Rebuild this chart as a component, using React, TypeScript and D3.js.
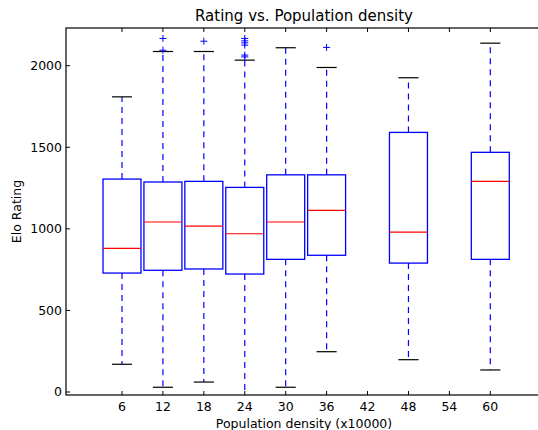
import React from "react";
import * as d3 from "d3";

const positions = [6, 12, 18, 24, 30, 36, 48, 60];
const q1 = [729, 746, 754, 723, 813, 838, 790, 813];
const medians = [880, 1042, 1017, 970, 1042, 1113, 980, 1291];
const q3 = [1305, 1287, 1291, 1254, 1331, 1331, 1591, 1469];
const whiskerLow = [170, 29, 61, -40, 29, 247, 198, 135];
const whiskerHigh = [1809, 2087, 2087, 2034, 2110, 1989, 1926, 2138];
const outliers: number[][] = [
  [],
  [2167, 2095],
  [2150],
  [2167, 2152, 2140, 2126, 2065, 2054],
  [],
  [2112],
  [],
  [],
];
const xTicks = [6, 12, 18, 24, 30, 36, 42, 48, 54, 60];
const yTicks = [0, 500, 1000, 1500, 2000];

const W = 538;
const H = 430;
const left = 66;
const right = 542;
const top = 28;
const bottom = 395;
const FONT = "DejaVu Sans, sans-serif";

export default function App() {
  const x = d3.scaleLinear().domain([6, 60]).range([122, 490.3]);
  const y = d3.scaleLinear().domain([-18.4, 2231]).range([bottom, top]);
  const boxW = 5.57;
  const capW = 2.95;
  const tickLen = 4;

  return (
    <svg
      width={W}
      height={H}
      style={{ position: "absolute", left: 0, top: 0, background: "#fff" }}
      fontFamily={FONT}
    >
      <defs>
        <clipPath id="plot">
          <rect x={left} y={top} width={right - left} height={bottom - top} />
        </clipPath>
      </defs>
      <rect x={0} y={0} width={W} height={H} fill="#fff" />
      <g clipPath="url(#plot)">
        {positions.map((p, i) => {
          const cx = x(p);
          const x0 = x(p - boxW / 2);
          const x1 = x(p + boxW / 2);
          const c0 = x(p - capW / 2);
          const c1 = x(p + capW / 2);
          return (
            <g key={p}>
              <line x1={cx} x2={cx} y1={y(q3[i])} y2={y(whiskerHigh[i])} stroke="#0000ff" strokeWidth={1.2} strokeDasharray="6,5" />
              <line x1={cx} x2={cx} y1={y(q1[i])} y2={y(whiskerLow[i])} stroke="#0000ff" strokeWidth={1.2} strokeDasharray="6,5" />
              <line x1={c0} x2={c1} y1={y(whiskerHigh[i])} y2={y(whiskerHigh[i])} stroke="#000" strokeWidth={1.2} />
              <line x1={c0} x2={c1} y1={y(whiskerLow[i])} y2={y(whiskerLow[i])} stroke="#000" strokeWidth={1.2} />
              <rect x={x0} y={y(q3[i])} width={x1 - x0} height={y(q1[i]) - y(q3[i])} fill="none" stroke="#0000ff" strokeWidth={1.3} />
              <line x1={x0} x2={x1} y1={y(medians[i])} y2={y(medians[i])} stroke="#ff0000" strokeWidth={1.2} />
              {outliers[i].map((o, j) => (
                <g key={j} stroke="#0000ff" strokeWidth={1}>
                  <line x1={cx - 3.5} x2={cx + 3.5} y1={y(o)} y2={y(o)} />
                  <line x1={cx} x2={cx} y1={y(o) - 3.5} y2={y(o) + 3.5} />
                </g>
              ))}
            </g>
          );
        })}
      </g>
      {/* axes frame */}
      <rect x={left} y={top} width={right - left} height={bottom - top} fill="none" stroke="#000" strokeWidth={1.2} />
      {/* x ticks */}
      {xTicks.map((t) => (
        <g key={t}>
          <line x1={x(t)} x2={x(t)} y1={bottom} y2={bottom - tickLen} stroke="#000" />
          <line x1={x(t)} x2={x(t)} y1={top} y2={top + tickLen} stroke="#000" />
          <text x={x(t)} y={411} textAnchor="middle" fontSize={12.5} fill="#000">
            {t}
          </text>
        </g>
      ))}
      {/* y ticks */}
      {yTicks.map((t) => (
        <g key={t}>
          <line x1={left} x2={left + tickLen} y1={y(t)} y2={y(t)} stroke="#000" />
          <line x1={right} x2={right - tickLen} y1={y(t)} y2={y(t)} stroke="#000" />
          <text x={62} y={y(t)} dy="0.36em" textAnchor="end" fontSize={12.5} fill="#000">
            {t}
          </text>
        </g>
      ))}
      <text x={(left + right) / 2} y={21} textAnchor="middle" fontSize={15} fill="#000">
        Rating vs. Population density
      </text>
      <text x={(left + right) / 2} y={428} textAnchor="middle" fontSize={12.5} fill="#000">
        Population density (x10000)
      </text>
      <text
        transform={`translate(20.5, ${(top + bottom) / 2}) rotate(-90)`}
        textAnchor="middle"
        fontSize={12.5}
        fill="#000"
      >
        Elo Rating
      </text>
    </svg>
  );
}
